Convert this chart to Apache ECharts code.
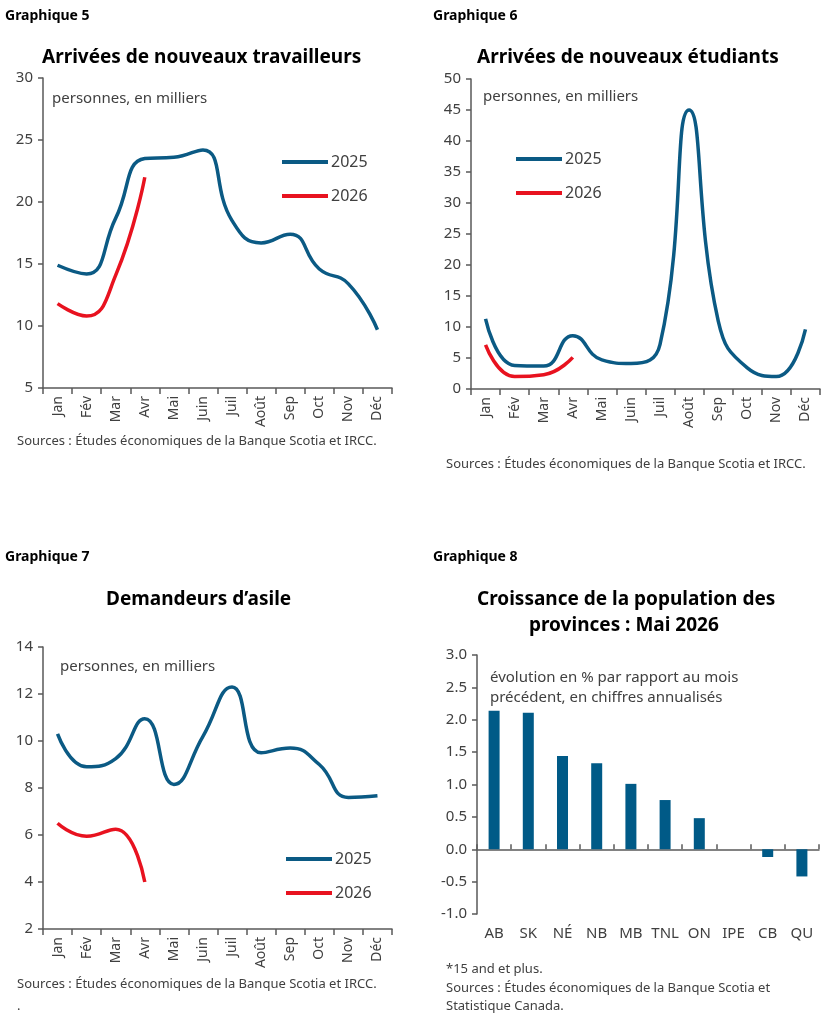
<!DOCTYPE html>
<html>
<head>
<meta charset="utf-8">
<script src="https://cdn.jsdelivr.net/npm/echarts@6/dist/echarts.min.js"></script>
<style>
  html, body { margin: 0; padding: 0; background: #fff; }
  #main { width: 828px; height: 1023px; }
</style>
</head>
<body>
<div id="main"></div>
<script>
// mois (axe des x des graphiques 5, 6, 7)
var mois = ['Jan', 'Fév', 'Mar', 'Avr', 'Mai', 'Juin', 'Juil', 'Août', 'Sep', 'Oct', 'Nov', 'Déc'];

// Graphique 5 : nouveaux travailleurs
var travailleurs2025 = [14.9, 14.2, 18.7, 23.5, 23.6, 24.2, 18.5, 16.7, 17.4, 14.6, 13.4, 9.7];
var travailleurs2026 = [11.8, 10.8, 14.1, 22.0];

// Graphique 6 : nouveaux étudiants
var etudiants2025 = [11.3, 3.8, 3.7, 8.6, 4.7, 4.1, 7.2, 45.0, 11.0, 3.4, 2.0, 9.6];
var etudiants2026 = [7.1, 2.0, 2.3, 5.1];

// Graphique 7 : demandeurs d'asile
var asile2025 = [10.3, 8.9, 9.25, 10.95, 8.15, 10.2, 12.3, 9.5, 9.7, 9.0, 7.6, 7.67];
var asile2026 = [6.5, 5.95, 6.25, 4.0];

// Graphique 8 : croissance de la population par province
var provinces = ['AB', 'SK', 'NÉ', 'NB', 'MB', 'TNL', 'ON', 'IPE', 'CB', 'QU'];
var croissance = [2.14, 2.11, 1.44, 1.33, 1.01, 0.76, 0.48, 0, -0.12, -0.42];

var bleu = '#0b5a84';
var rouge = '#e8121f';
var gris = '#404040';
var police = 'Noto Sans';

var chart = echarts.init(document.getElementById('main'));

// petite fonction pour les textes libres
function txt(x, y, s, size, bold) {
    return {
        type: 'text', left: x, top: y,
        style: {
            text: s, fill: bold ? '#000' : gris,
            font: (bold ? 'bold ' : '') + size + 'px "' + police + '"'
        }
    };
}

function axeX(grid) {
    return {
        type: 'category', gridIndex: grid, data: mois, boundaryGap: true,
        axisLine: { show: true, lineStyle: { color: '#595959', width: 1.5 } },
        axisTick: { show: true, length: 6, lineStyle: { color: '#595959', width: 1.5 } },
        axisLabel: { rotate: 90, interval: 0, color: gris, fontSize: 14, fontFamily: police, margin: 8 }
    };
}

function axeY(grid, min, max, interval, dec) {
    return {
        type: 'value', gridIndex: grid, min: min, max: max, interval: interval,
        splitLine: { show: false },
        axisLine: { show: true, lineStyle: { color: '#595959', width: 1.5 } },
        axisTick: { show: true, length: 5, lineStyle: { color: '#595959', width: 1.5 } },
        axisLabel: {
            color: gris, fontSize: 15, fontFamily: police, margin: 10,
            formatter: function (v) { return dec ? v.toFixed(1) : v; }
        }
    };
}

function ligne(nom, grid, data, couleur) {
    return {
        name: nom, type: 'line', xAxisIndex: grid, yAxisIndex: grid,
        data: data, smooth: true, showSymbol: false,
        lineStyle: { color: couleur, width: 3.5 },
        itemStyle: { color: couleur }
    };
}

function legende(x, y) {
    return {
        left: x, top: y, orient: 'vertical', data: ['2025', '2026'],
        icon: 'rect', itemWidth: 46, itemHeight: 4, itemGap: 18,
        textStyle: { color: gris, fontSize: 16, fontFamily: police, padding: [0, 0, 0, -2] }
    };
}

var option = {
    backgroundColor: '#fff',
    animation: false,
    grid: [
        { left: 43, top: 78, width: 349, height: 310 },
        { left: 471, top: 79, width: 349, height: 310 },
        { left: 43, top: 647, width: 349, height: 282 },
        { left: 477, top: 655, width: 342, height: 259 }
    ],
    xAxis: [
        axeX(0), axeX(1), axeX(2),
        // axe du bas pour les étiquettes des provinces
        {
            type: 'category', gridIndex: 3, data: provinces, position: 'bottom',
            axisLine: { show: false, onZero: false }, axisTick: { show: false },
            axisLabel: { interval: 0, color: gris, fontSize: 15, fontFamily: police, margin: 12 }
        },
        // axe à zéro, avec ligne et graduations
        {
            type: 'category', gridIndex: 3, data: provinces,
            axisLine: { show: true, onZero: true, lineStyle: { color: '#595959', width: 1.5 } },
            axisTick: { show: true, interval: 0, length: 5, lineStyle: { color: '#595959', width: 1.5 } },
            axisLabel: { show: false }
        }
    ],
    yAxis: [
        axeY(0, 5, 30, 5),
        axeY(1, 0, 50, 5),
        axeY(2, 2, 14, 2),
        axeY(3, -1, 3, 0.5, true)
    ],
    legend: [
        legende(277, 149),
        legende(511, 146),
        legende(281, 846)
    ],
    series: [
        ligne('2025', 0, travailleurs2025, bleu),
        ligne('2026', 0, travailleurs2026, rouge),
        ligne('2025', 1, etudiants2025, bleu),
        ligne('2026', 1, etudiants2026, rouge),
        ligne('2025', 2, asile2025, bleu),
        ligne('2026', 2, asile2026, rouge),
        {
            name: 'croissance', type: 'bar', xAxisIndex: 3, yAxisIndex: 3,
            data: croissance, barWidth: 11,
            itemStyle: { color: '#005a87' }
        }
    ],
    graphic: [
        txt(5, 9, 'Graphique 5', 14, true),
        txt(433, 9, 'Graphique 6', 14, true),
        txt(5, 550, 'Graphique 7', 14, true),
        txt(433, 550, 'Graphique 8', 14, true),
        txt(42, 48, 'Arrivées de nouveaux travailleurs', 19, true),
        txt(477, 48, 'Arrivées de nouveaux étudiants', 19, true),
        txt(106, 590, 'Demandeurs d’asile', 19, true),
        txt(477, 590, 'Croissance de la population des', 19, true),
        txt(529, 616, 'provinces : Mai 2026', 19, true),
        txt(52, 91, 'personnes, en milliers', 15),
        txt(483, 89, 'personnes, en milliers', 15),
        txt(60, 659, 'personnes, en milliers', 15),
        txt(490, 670, 'évolution en % par rapport au mois', 15),
        txt(490, 690, 'précédent, en chiffres annualisés', 15),
        txt(17, 435, 'Sources : Études économiques de la Banque Scotia et IRCC.', 13),
        txt(446, 458, 'Sources : Études économiques de la Banque Scotia et IRCC.', 13),
        txt(17, 978, 'Sources : Études économiques de la Banque Scotia et IRCC.', 13),
        txt(17, 1000, '.', 13),
        txt(446, 963, '*15 and et plus.', 13),
        txt(446, 982, 'Sources : Études économiques de la Banque Scotia et', 13),
        txt(446, 1000, 'Statistique Canada.', 13)
    ]
};

chart.setOption(option);
</script>
</body>
</html>
